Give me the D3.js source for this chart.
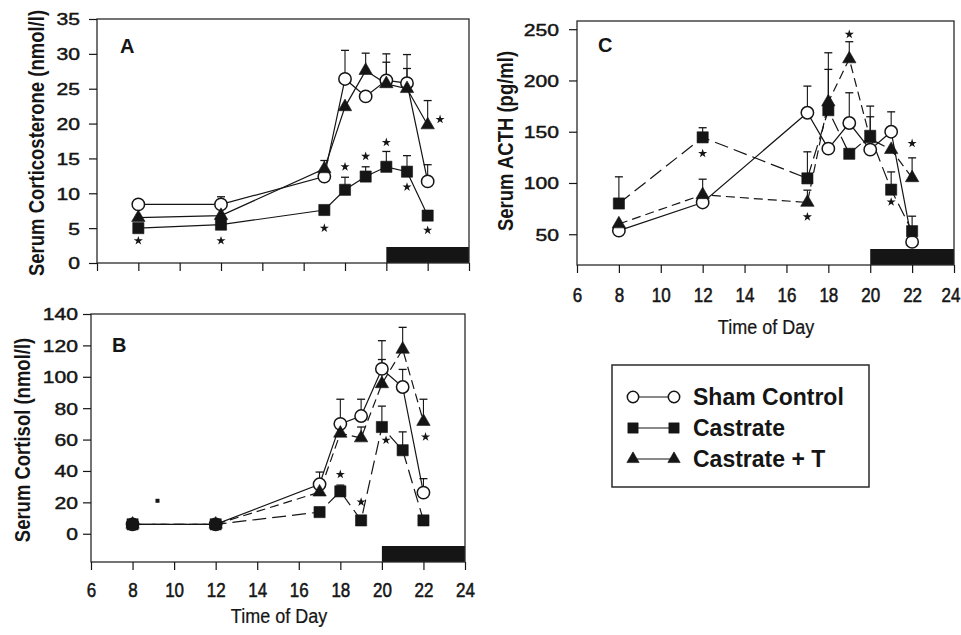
<!DOCTYPE html>
<html lang="en">
<head>
<meta charset="utf-8">
<script src="https://cdn.jsdelivr.net/npm/d3@7"></script>
<title>Serum corticosterone, cortisol and ACTH</title>
<style>
  body { margin: 0; background: #fff; }
  svg { display: block; font-family: "Liberation Sans", Arial, sans-serif; }
</style>
</head>
<body>
<svg id="chart" width="961" height="635"></svg>
<script>
// sampling times (h) shared by all three panels
var hours = [8, 12, 17, 18, 19, 20, 21, 22];
var hourTicks = [6, 8, 10, 12, 14, 16, 18, 20, 22, 24];
var darkPhase = [20, 24];

// A - serum corticosterone (nmol/l)
var corticoSham      = [8.4, 8.4, 12.4, 26.4, 23.9, 26.2, 25.8, 11.7];
var corticoCastrate  = [5.0, 5.5, 7.6, 10.5, 12.4, 13.8, 13.1, 6.8];
var corticoCastrateT = [6.5, 6.8, 13.5, 22.4, 27.6, 25.7, 25.0, 19.8];
var corticoShamErr      = [9.0, 9.5, null, 30.5, null, 30.0, 29.9, 14.1];
var corticoCastrateErr  = [null, null, null, 12.3, 13.8, 16.0, 15.4, null];
var corticoCastrateTErr = [null, null, 14.7, null, 30.1, 28.8, 27.9, 23.3];
var corticoStars = [[8, 3.2], [12, 3.2], [17, 5.0], [18, 13.8], [19, 15.3], [20, 17.3], [21, 10.9], [22, 4.7], [22.6, 20.6]];
var corticoTicks = [0, 5, 10, 15, 20, 25, 30, 35];

// B - serum cortisol (nmol/l)
var cortisolSham      = [6, 6, 31.5, 70, 75, 105, 93.5, 26.2];
var cortisolCastrate  = [6, 6, 13.8, 27, 8.5, 68, 53.2, 8.5];
var cortisolCastrateT = [6, 6, 26.5, 64, 61, 95.5, 117.5, 71.5];
var cortisolShamErr      = [null, null, 39.3, 85.7, 85.7, 123, 104.7, 35.1];
var cortisolCastrateErr  = [null, null, null, 31, null, 81.3, 64.9, null];
var cortisolCastrateTErr = [null, null, null, null, 68, 111, 131.5, 85.7];
var cortisolStars = [[18, 37.8], [19, 20.2], [20.2, 59.6], [22.1, 61.7]];
var cortisolDots = [[9.2, 21]];
var cortisolTicks = [0, 20, 40, 60, 80, 100, 120, 140];

// C - serum ACTH (pg/ml)
var acthSham      = [53.5, 81, 168.5, 133.5, 158.5, 132.5, 150, 42.5];
var acthCastrate  = [80, 144.5, 104.5, 171, 128.5, 146, 93.5, 53];
var acthCastrateT = [60, 88.5, 81, 179, 221, 143, 132.5, 105];
var acthShamErr      = [null, null, 194.5, null, 188, null, 169.4, null];
var acthCastrateErr  = [106, 153.9, 130.4, 210.8, null, 175, 110.8, 67.6];
var acthCastrateTErr = [null, 103.7, 93, 227, 237.8, 164.6, null, 124.5];
var acthStars = [[12, 128.8], [17, 67], [19, 245], [21, 81.5], [22, 138.6]];
var acthTicks = [50, 100, 150, 200, 250];

var legendLabels = ["Sham Control", "Castrate", "Castrate + T"];

var svg = d3.select("#chart");
var ink = "#151515";

var panels = [
  { letter: "A", title: "Serum Corticosterone (nmol/l)",
    x: d3.scaleLinear().domain([6, 24]).range([97, 469]),
    y: d3.scaleLinear().domain([0, 35]).range([263, 19]),
    ticks: corticoTicks, labelsX: false, yLabelGap: 17,
    series: [corticoSham, corticoCastrate, corticoCastrateT],
    errs: [corticoShamErr, corticoCastrateErr, corticoCastrateTErr],
    dashes: [null, null, null], stars: corticoStars, dots: [],
    letterAt: [120, 53], titleAt: [36, 143] },
  { letter: "B", title: "Serum Cortisol (nmol/l)",
    x: d3.scaleLinear().domain([6, 24]).range([91, 465]),
    y: d3.scaleLinear().domain([-18, 140]).range([562, 314]),
    ticks: cortisolTicks, labelsX: true, yLabelGap: 13, xLabelGap: 35, xTitleAt: [279, 623],
    series: [cortisolSham, cortisolCastrate, cortisolCastrateT],
    errs: [cortisolShamErr, cortisolCastrateErr, cortisolCastrateTErr],
    dashes: [null, "14,6", "9,5"], stars: cortisolStars, dots: cortisolDots,
    letterAt: [112, 352], titleAt: [22, 440] },
  { letter: "C", title: "Serum ACTH (pg/ml)",
    x: d3.scaleLinear().domain([6, 24]).range([577, 954]),
    y: d3.scaleLinear().domain([20, 258]).range([265, 21]),
    ticks: acthTicks, labelsX: true, yLabelGap: 18, xLabelGap: 37, xTitleAt: [766, 334],
    series: [acthSham, acthCastrate, acthCastrateT],
    errs: [acthShamErr, acthCastrateErr, acthCastrateTErr],
    dashes: [null, "14,6", "9,5"], stars: acthStars, dots: [],
    letterAt: [598, 52], titleAt: [505, 141] }
];

var shapes = [d3.symbolCircle, d3.symbolSquare, d3.symbolTriangle];
var shapeSize = [120, 125, 78];

function marker(g, k, cx, cy, scale) {
  var s = scale || 1;
  g.append("path")
    .attr("d", d3.symbol(shapes[k], shapeSize[k] * s)())
    .attr("transform", "translate(" + cx + "," + cy + ")")
    .attr("fill", k === 0 ? "#fff" : ink)
    .attr("stroke", ink)
    .attr("stroke-width", k === 0 ? 1.5 : 0.6);
}

panels.forEach(function (p) {
  var g = svg.append("g");
  var x = p.x, y = p.y;
  var x0 = x.range()[0], x1 = x.range()[1];
  var yb = y.range()[0], yt = y.range()[1];

  // dark phase bar
  g.append("rect")
    .attr("x", x(darkPhase[0])).attr("width", x(darkPhase[1]) - x(darkPhase[0]))
    .attr("y", yb - 16).attr("height", 16)
    .attr("fill", ink);

  // frame
  g.append("rect")
    .attr("x", x0).attr("y", yt).attr("width", x1 - x0).attr("height", yb - yt)
    .attr("fill", "none").attr("stroke", "#2a2a2a").attr("stroke-width", 1.3);

  // y axis
  var ya = g.append("g").attr("transform", "translate(" + x0 + ",0)")
    .call(d3.axisLeft(y).tickValues(p.ticks).tickSize(8).tickFormat(d3.format("d")));
  ya.select(".domain").remove();
  ya.selectAll(".tick line").attr("stroke", ink).attr("stroke-width", 1.2);
  ya.selectAll(".tick text")
    .attr("x", 0).attr("dy", "0.36em")
    .attr("transform", "translate(" + (-p.yLabelGap) + ",0) scale(1.28,1)")
    .attr("fill", ink).attr("stroke", ink).attr("stroke-width", 0.45)
    .style("font-size", "16.5px").attr("font-family", null);

  // x axis
  var xa = g.append("g").attr("transform", "translate(0," + yb + ")")
    .call(d3.axisBottom(x).tickValues(hourTicks).tickSize(8)
      .tickFormat(p.labelsX ? d3.format("d") : ""));
  xa.select(".domain").remove();
  xa.selectAll(".tick line").attr("stroke", ink).attr("stroke-width", 1.2);
  if (p.labelsX) {
    xa.selectAll(".tick text")
      .attr("y", 0).attr("dy", 0)
      .attr("transform", "translate(0," + p.xLabelGap + ") scale(1,1.22)")
      .attr("fill", ink).attr("stroke", ink).attr("stroke-width", 0.45)
      .style("font-size", "17px").attr("font-family", null);
    // keep the last label inside the page
    xa.selectAll(".tick text")
      .filter(function (d) { return x(d) + 10 > 961; })
      .attr("text-anchor", "end").attr("x", 961 - x1 - 1);
    g.append("text")
      .attr("transform", "translate(" + p.xTitleAt[0] + "," + p.xTitleAt[1] + ") scale(1,1.1)")
      .attr("text-anchor", "middle").attr("fill", ink)
      .attr("stroke", ink).attr("stroke-width", 0.2)
      .style("font-size", "18px").text("Time of Day");
  }

  // y title and panel letter
  g.append("text")
    .attr("transform", "translate(" + p.titleAt[0] + "," + p.titleAt[1] + ") rotate(-90) scale(1,1.2)")
    .attr("text-anchor", "middle").attr("dy", "0.35em")
    .attr("fill", ink).style("font-size", "18.5px").style("font-weight", "bold")
    .text(p.title);
  g.append("text")
    .attr("x", p.letterAt[0]).attr("y", p.letterAt[1])
    .attr("fill", ink).style("font-size", "20px").style("font-weight", "bold")
    .text(p.letter);

  // lines
  var line = d3.line().x(function (d, i) { return x(hours[i]); }).y(function (d) { return y(d); });
  p.series.forEach(function (s, k) {
    g.append("path").datum(s).attr("d", line)
      .attr("fill", "none").attr("stroke", ink).attr("stroke-width", 1.2)
      .attr("stroke-dasharray", p.dashes[k]);
  });

  // error bars (upper only)
  p.errs.forEach(function (e, k) {
    e.forEach(function (v, i) {
      if (v == null) return;
      var cx = x(hours[i]);
      g.append("line").attr("x1", cx).attr("x2", cx)
        .attr("y1", y(p.series[k][i])).attr("y2", y(v))
        .attr("stroke", ink).attr("stroke-width", 1.1);
      g.append("line").attr("x1", cx - 4).attr("x2", cx + 4)
        .attr("y1", y(v)).attr("y2", y(v))
        .attr("stroke", ink).attr("stroke-width", 1.3);
    });
  });

  // markers: circles, then squares, then triangles on top
  p.series.forEach(function (s, k) {
    s.forEach(function (v, i) { marker(g, k, x(hours[i]), y(v)); });
  });

  // significance stars
  g.selectAll(".star").data(p.stars).enter().append("path")
    .attr("d", d3.symbol(d3.symbolStar, 26)())
    .attr("transform", function (d) { return "translate(" + x(d[0]) + "," + y(d[1]) + ")"; })
    .attr("fill", ink);
  g.selectAll(".dot").data(p.dots).enter().append("rect")
    .attr("x", function (d) { return x(d[0]) - 2; })
    .attr("y", function (d) { return y(d[1]) - 2; })
    .attr("width", 4).attr("height", 4).attr("fill", ink);
});

// legend
var lg = svg.append("g");
lg.append("rect").attr("x", 612).attr("y", 365).attr("width", 257).attr("height", 122)
  .attr("fill", "none").attr("stroke", "#2a2a2a").attr("stroke-width", 1.5);
var legendY = d3.scalePoint().domain(legendLabels).range([397, 459]);
legendLabels.forEach(function (name, k) {
  var cy = legendY(name);
  lg.append("line").attr("x1", 633).attr("x2", 674).attr("y1", cy).attr("y2", cy)
    .attr("stroke", ink).attr("stroke-width", 1.2);
  marker(lg, k, 633, cy, 0.85);
  marker(lg, k, 674, cy, 0.85);
  lg.append("text").attr("x", 693).attr("y", cy + 8)
    .attr("fill", ink).style("font-size", "23px").style("font-weight", "bold")
    .text(name);
});
</script>
</body>
</html>
